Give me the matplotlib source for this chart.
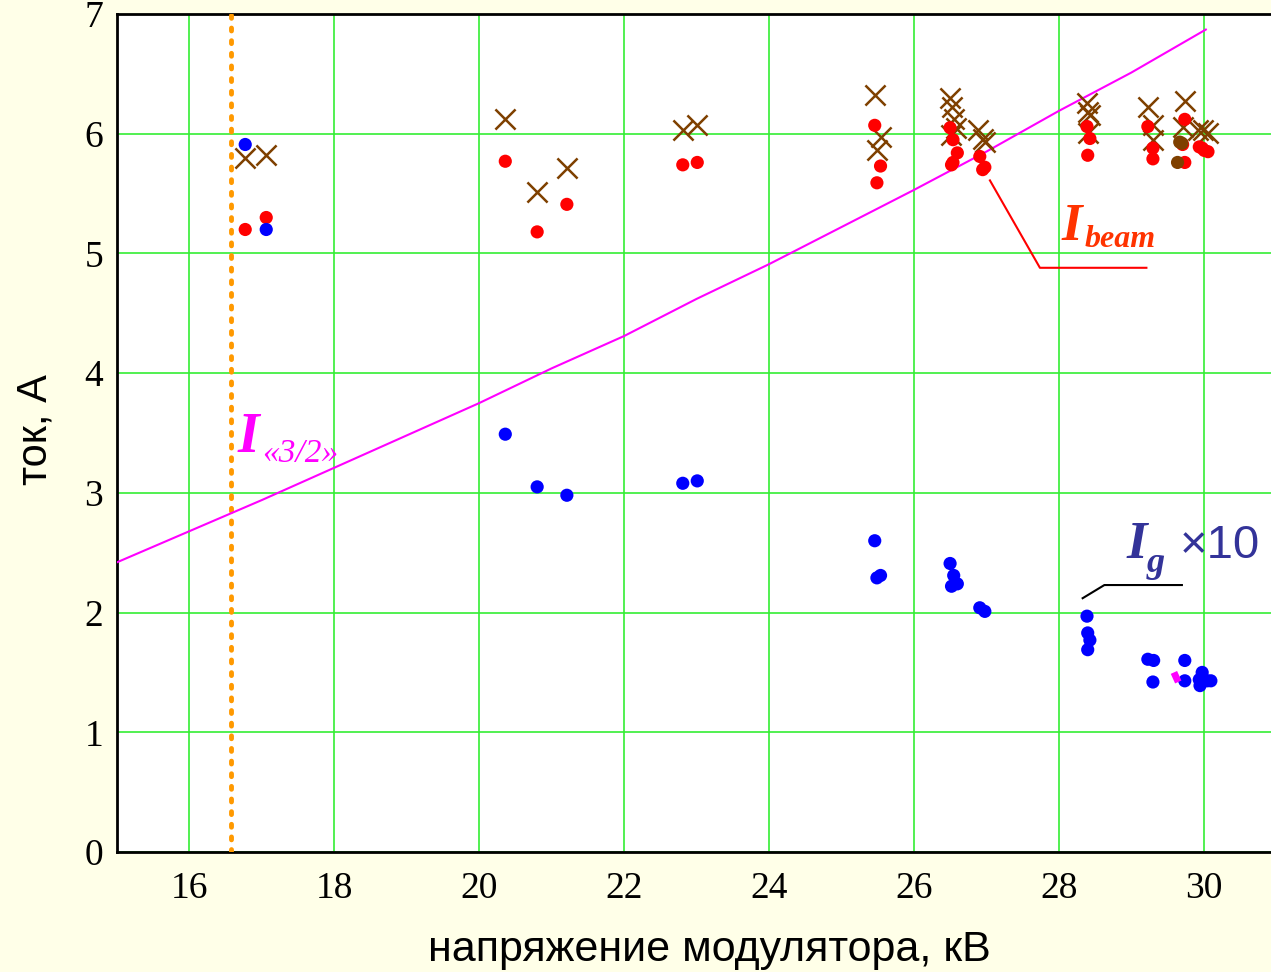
import numpy as np
import matplotlib
matplotlib.use('Agg')
import matplotlib.pyplot as plt

# Ig x10 (blue dots)
ig_x = [16.77, 17.06, 20.36, 20.80, 21.21, 22.81, 23.01, 25.46, 25.49, 25.54,
        26.50, 26.55, 26.52, 26.60, 26.91, 26.98, 28.39, 28.40, 28.43, 28.40,
        29.23, 29.31, 29.30, 29.74, 29.74, 29.94, 29.98, 30.05, 29.95, 30.10]
ig_y = [5.91, 5.20, 3.49, 3.05, 2.98, 3.08, 3.10, 2.60, 2.29, 2.31,
        2.41, 2.31, 2.22, 2.24, 2.04, 2.01, 1.97, 1.83, 1.77, 1.69,
        1.61, 1.60, 1.42, 1.60, 1.43, 1.44, 1.50, 1.43, 1.39, 1.43]

# Ibeam (red dots)
ib_x = [16.77, 17.06, 20.36, 20.80, 21.21, 22.81, 23.01, 25.46, 25.54, 25.49,
        26.50, 26.54, 26.60, 26.54, 26.52, 26.91, 26.98, 26.95,
        28.39, 28.43, 28.40, 29.23, 29.30, 29.30, 29.74, 29.71, 29.74,
        29.94, 29.98, 30.01, 30.06]
ib_y = [5.20, 5.30, 5.77, 5.18, 5.41, 5.74, 5.76, 6.07, 5.73, 5.59,
        6.05, 5.95, 5.84, 5.76, 5.74, 5.81, 5.72, 5.70,
        6.06, 5.96, 5.82, 6.06, 5.88, 5.79, 6.12, 5.91, 5.76,
        5.89, 5.88, 5.86, 5.85]

# second Ibeam measurement (brown crosses)
ix_x = [16.77, 17.06, 20.36, 20.80, 21.21, 22.82, 23.01, 25.46, 25.55, 25.49,
        26.50, 26.52, 26.55, 26.58, 26.51, 26.88, 26.95, 26.98,
        28.39, 28.41, 28.43, 28.40, 29.23, 29.30, 29.30,
        29.74, 29.71, 29.92, 29.99, 30.06]
ix_y = [5.80, 5.82, 6.12, 5.51, 5.71, 6.03, 6.07, 6.32, 5.97, 5.86,
        6.30, 6.22, 6.12, 6.05, 5.99, 6.03, 5.96, 5.93,
        6.26, 6.18, 6.16, 6.01, 6.22, 6.07, 5.95,
        6.27, 6.06, 6.03, 6.03, 6.01]

# brown dots
bd_x = [29.67, 29.70, 29.64]
bd_y = [5.93, 5.92, 5.76]

# I "3/2" law line
law_x = [15, 16, 17, 18, 19, 20, 21, 22, 23, 24, 25, 26, 27, 28, 29, 30.03]
law_y = [2.42, 2.68, 2.94, 3.21, 3.48, 3.75, 4.04, 4.31, 4.62, 4.91, 5.22, 5.53, 5.85, 6.19, 6.51, 6.87]

v_line = 16.57

fig = plt.figure(figsize=(12.71, 9.72), dpi=100, facecolor='#FFFFE8')
ax = fig.add_axes([117 / 1271, 1 - 852 / 972, 1 - 117 / 1271, (852 - 14) / 972])
ax.set_facecolor('white')

ax.set_xlim(15, 30.93)
ax.set_ylim(0, 7)
ax.set_xticks(np.arange(16, 31, 2))
ax.set_yticks(np.arange(0, 8, 1))
ax.grid(True, color='#33EE33', lw=1.2)
ax.set_axisbelow(True)
for s in ['left', 'bottom', 'top']:
    ax.spines[s].set_linewidth(2)
    ax.spines[s].set_color('black')
ax.spines['right'].set_visible(False)
ax.tick_params(length=0, labelsize=27)
ax.tick_params(axis='x', pad=14)
ax.tick_params(axis='y', pad=10)
for lab in ax.get_xticklabels() + ax.get_yticklabels():
    lab.set_family('Liberation Serif')

ax.axvline(v_line, color='#FF9900', lw=3.5, ls=(0, (0.6, 2.0)), dash_capstyle='round', zorder=3)
ax.plot(law_x, law_y, color='#FF00FF', lw=1.5, zorder=3)

ax.scatter(ix_x, ix_y, marker='x', s=210, color='#7F4000', linewidths=1.8, zorder=4)
ax.scatter(ib_x, ib_y, s=90, color='#FF0000', zorder=5, edgecolors='none')
ax.scatter(bd_x, bd_y, s=90, color='#7F4000', zorder=6, edgecolors='none')
ax.scatter(ig_x, ig_y, s=90, color='#0000FF', zorder=5, edgecolors='none')
ax.plot([29.59, 29.65], [1.50, 1.42], color='#FF00FF', lw=5, solid_capstyle='butt', zorder=6)

# annotations
ax.text(16.66, 3.34, 'I', color='#FF00FF', fontsize=40, style='italic', fontweight='bold',
        family='Liberation Serif')
ax.text(17.0, 3.26, '«3/2»', color='#FF00FF', fontsize=24, style='italic',
        family='Liberation Serif')

ax.plot([27.05, 27.74, 29.21], [5.61, 4.88, 4.88], color='#FF0000', lw=1.5, zorder=3)
ax.text(28.04, 5.11, 'I', color='#FF3300', fontsize=38, style='italic', fontweight='bold',
        family='Liberation Serif')
ax.text(28.36, 5.05, 'beam', color='#FF3300', fontsize=23, style='italic', fontweight='bold',
        family='Liberation Serif')

ax.plot([28.33, 28.63, 29.70], [2.12, 2.23, 2.23], color='black', lw=1.5, zorder=3)
ax.text(28.94, 2.46, 'I', color='#333399', fontsize=38, style='italic', fontweight='bold',
        family='Liberation Serif')
ax.text(29.21, 2.34, 'g', color='#333399', fontsize=26, style='italic', fontweight='bold',
        family='Liberation Serif')
ax.text(29.67, 2.46, '×10', color='#333399', fontsize=34, family='Liberation Sans')

fig.text(35 / 1271, 1 - 430 / 972, 'ток, А', rotation=90, fontsize=30,
         family='Liberation Sans', ha='center', va='center')
fig.text(709 / 1271, 1 - 950 / 972, 'напряжение модулятора, кВ', fontsize=31,
         family='Liberation Sans', ha='center', va='center')

fig.savefig('out.png', dpi=100, facecolor=fig.get_facecolor())
